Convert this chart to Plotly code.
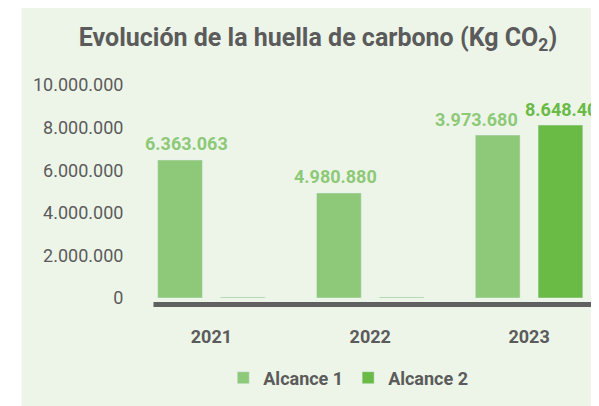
import plotly.graph_objects as go

years = ["2021", "2022", "2023"]
alcance1 = [6480000, 4930000, 7650000]
alcance2 = [40000, 40000, 8120000]
labels1 = ["6.363.063", "4.980.880", "3.973.680"]
labels2 = ["", "", "8.648.400"]
ytick_vals = [0, 2000000, 4000000, 6000000, 8000000, 10000000]

C1 = "#8dc978"
C2 = "#6aba46"
GREY = "#5b5b5b"
BG = "#edf5e9"
FONT = "Roboto"

OFF = 8  # page body margin
W, H = 599, 406
L = 131.5 - OFF
Y0 = 298 - OFF      # pixel of value 0
Y10 = 85 - OFF      # pixel of 10M
RIGHT = 599 - OFF
T, B = Y10, H - Y0
pw = RIGHT - L
ph = Y0 - Y10

band = 159.0
slot = 63.0
# small horizontal nudges of the value labels (style only)
nudge1 = [7, -3, -21]
nudge2 = [0, 0, 6]

fig = go.Figure()
fig.add_trace(go.Bar(name="<b>Alcance 1</b>", x=years, y=alcance1, marker_color=C1))
fig.add_trace(go.Bar(name="<b>Alcance 2</b>", x=years, y=alcance2, marker_color=C2))

for vals, labs, col, sign, nudge in [(alcance1, labels1, C1, -1, nudge1),
                                     (alcance2, labels2, C2, 1, nudge2)]:
    for i, (v, t, dx) in enumerate(zip(vals, labs, nudge)):
        if t:
            # category axis: annotation x given as category index
            fig.add_annotation(x=i, y=v, xref="x", yref="y", text="<b>%s</b>" % t,
                               showarrow=False, xshift=sign * slot / 2 + dx, yshift=16,
                               xanchor="center", yanchor="middle",
                               font=dict(family=FONT, size=18, color=col))

fig.add_shape(type="rect", xref="paper", yref="paper",
              x0=(21 - OFF - L) / pw, x1=1.2, y0=-0.8, y1=(Y0 + OFF) / ph,
              fillcolor=BG, line_width=0, layer="below")
fig.add_shape(type="line", xref="paper", yref="paper",
              x0=(153 - OFF - L) / pw, x1=1.05, y0=-6.5 / ph, y1=-6.5 / ph,
              line=dict(color="#606060", width=5))

fig.update_layout(
    width=W, height=H,
    margin=dict(l=L, r=W - RIGHT, t=T, b=B),
    paper_bgcolor="white", plot_bgcolor=BG,
    separators=",.",
    barmode="group", bargap=0.21, bargroupgap=0.286,
    title=dict(text="<b>Evolución de la huella de carbono (Kg CO<sub>2</sub>)</b>",
               x=(318 - OFF) / W, xanchor="center", y=1 - (37 - OFF) / H, yanchor="middle",
               font=dict(family=FONT, size=25, color=GREY)),
    font=dict(family=FONT, color=GREY),
    legend=dict(orientation="h", x=(348 - OFF - L) / pw, xanchor="center",
                y=(Y0 - (378 - OFF)) / ph, yanchor="middle",
                font=dict(family=FONT, size=18, color=GREY), bgcolor="rgba(0,0,0,0)"),
    showlegend=True,
)
fig.update_xaxes(type="category", range=[-0.5, pw / band - 0.5], showline=False, showgrid=False,
                 zeroline=False, ticks="outside", ticklen=22, tickcolor="rgba(0,0,0,0)",
                 tickfont=dict(family=FONT, size=18, color=GREY),
                 tickvals=years, ticktext=["<b>%s</b>" % y for y in years])
fig.update_yaxes(range=[0, 10000000], tickvals=ytick_vals, tickformat=",d",
                 showgrid=False, zeroline=False, showline=False,
                 ticks="outside", ticklen=4, tickcolor="rgba(0,0,0,0)",
                 tickfont=dict(family=FONT, size=18, color=GREY))

fig.write_html("out.html")
